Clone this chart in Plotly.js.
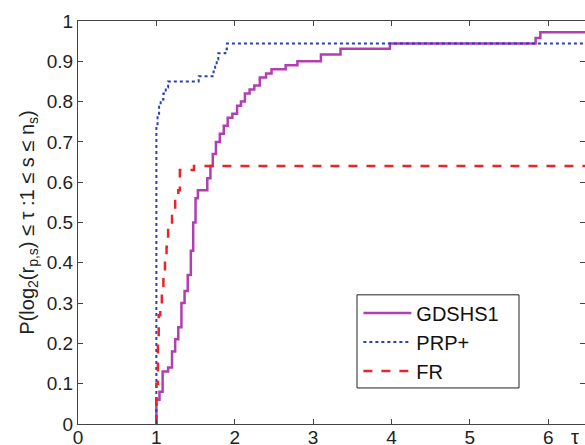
<!DOCTYPE html>
<html>
<head>
<meta charset="utf-8">
<script src="https://cdn.plot.ly/plotly-3.0.1.min.js"></script>
<style>html,body{margin:0;padding:0;background:#fff;}#chart{width:585px;height:445px;}</style>
</head>
<body>
<div id="chart"></div>
<script>
// Performance profile data (step functions, value starts at each x)
const seriesNames = ["GDSHS1", "PRP+", "FR"];

const gdshs1X = [1.00, 1.00, 1.04, 1.08, 1.15, 1.20, 1.24, 1.28, 1.32, 1.36, 1.40, 1.44, 1.47, 1.50, 1.53, 1.65, 1.69, 1.72, 1.76, 1.81, 1.86, 1.91, 1.97, 2.03, 2.08, 2.13, 2.19, 2.25, 2.32, 2.40, 2.47, 2.65, 2.80, 3.10, 3.35, 3.98, 5.84, 5.90, 6.50];
const gdshs1Y = [0.00, 0.06, 0.08, 0.13, 0.14, 0.18, 0.21, 0.24, 0.30, 0.33, 0.37, 0.43, 0.50, 0.56, 0.58, 0.61, 0.64, 0.67, 0.70, 0.72, 0.74, 0.76, 0.77, 0.79, 0.80, 0.82, 0.83, 0.84, 0.86, 0.87, 0.88, 0.89, 0.90, 0.917, 0.931, 0.944, 0.958, 0.972, 0.972];

const prpX = [1.00, 1.00, 1.015, 1.035, 1.055, 1.09, 1.12, 1.15, 1.54, 1.73, 1.75, 1.77, 1.79, 1.88, 1.90, 6.50];
const prpY = [0.00, 0.74, 0.77, 0.79, 0.805, 0.82, 0.835, 0.85, 0.863, 0.875, 0.89, 0.905, 0.92, 0.93, 0.944, 0.944];

const frX = [1.00, 1.00, 1.02, 1.03, 1.05, 1.07, 1.09, 1.11, 1.13, 1.15, 1.20, 1.24, 1.28, 1.30, 1.48, 6.50];
const frY = [0.00, 0.10, 0.20, 0.27, 0.29, 0.33, 0.37, 0.40, 0.44, 0.49, 0.53, 0.56, 0.58, 0.63, 0.64, 0.64];

const xTicks = [0, 1, 2, 3, 4, 5, 6];
const yTicks = [0, 0.1, 0.2, 0.3, 0.4, 0.5, 0.6, 0.7, 0.8, 0.9, 1];
const yTickText = ["0", "0.1", "0.2", "0.3", "0.4", "0.5", "0.6", "0.7", "0.8", "0.9", "1"];

const FONT = "Liberation Sans, Arial, sans-serif";

const traces = [
  {x: gdshs1X, y: gdshs1Y, name: seriesNames[0], mode: "lines",
   line: {color: "#b03fb0", width: 2.5, shape: "hv"}},
  {x: prpX, y: prpY, name: seriesNames[1], mode: "lines",
   line: {color: "#2b3fb5", width: 2, dash: "dot", shape: "hv"}},
  {x: frX, y: frY, name: seriesNames[2], mode: "lines",
   line: {color: "#e8262a", width: 2.5, dash: "dash", shape: "hv"}}
];

const layout = {
  width: 585, height: 445,
  margin: {l: 78, r: 0, t: 21, b: 21, pad: 0},
  paper_bgcolor: "#fff", plot_bgcolor: "#fff",
  font: {family: FONT, size: 19, color: "#222"},
  showlegend: true,
  legend: {x: 0.553, y: 0.324, xanchor: "left", yanchor: "top",
           bgcolor: "rgba(0,0,0,0)", borderwidth: 0,
           itemwidth: 48,
           font: {family: FONT, size: 20, color: "#111"}},
  shapes: [
    {type: "rect", xref: "paper", yref: "paper",
     x0: (357 - 78) / 507, x1: (519 - 78) / 507,
     y0: (424 - 388) / 402.5, y1: (424 - 295) / 402.5,
     line: {color: "#222", width: 1}, fillcolor: "#fff", layer: "above"}
  ],
  xaxis: {range: [0, 6.47], tickvals: xTicks, ticktext: xTicks.map(String),
          ticks: "inside", ticklen: 5, tickcolor: "#444", showline: true, linecolor: "#444",
          linewidth: 1, mirror: "ticks", showgrid: false, zeroline: false,
          ticklabelstandoff: -4,
          tickfont: {family: FONT, size: 19, color: "#222"}},
  yaxis: {range: [0, 1], tickvals: yTicks, ticktext: yTickText,
          ticks: "inside", ticklen: 5, tickcolor: "#444", showline: true, linecolor: "#444",
          linewidth: 1, mirror: "ticks", showgrid: false, zeroline: false,
          tickfont: {family: FONT, size: 19, color: "#222"},
          title: {text: "P(log<sub>2</sub>(r<sub>p,s</sub>) ≤ τ :1 ≤ s ≤ n<sub>s</sub>)",
                  font: {family: FONT, size: 20, color: "#222"}, standoff: 6},
          automargin: false},
  annotations: [
    {text: "τ", xref: "paper", yref: "paper", x: (575 - 78) / 507, y: -0.032,
     xanchor: "center", yanchor: "middle", showarrow: false,
     font: {family: FONT, size: 20, color: "#222"}}
  ]
};

Plotly.newPlot("chart", traces, layout, {displayModeBar: false, staticPlot: true});
</script>
</body>
</html>
